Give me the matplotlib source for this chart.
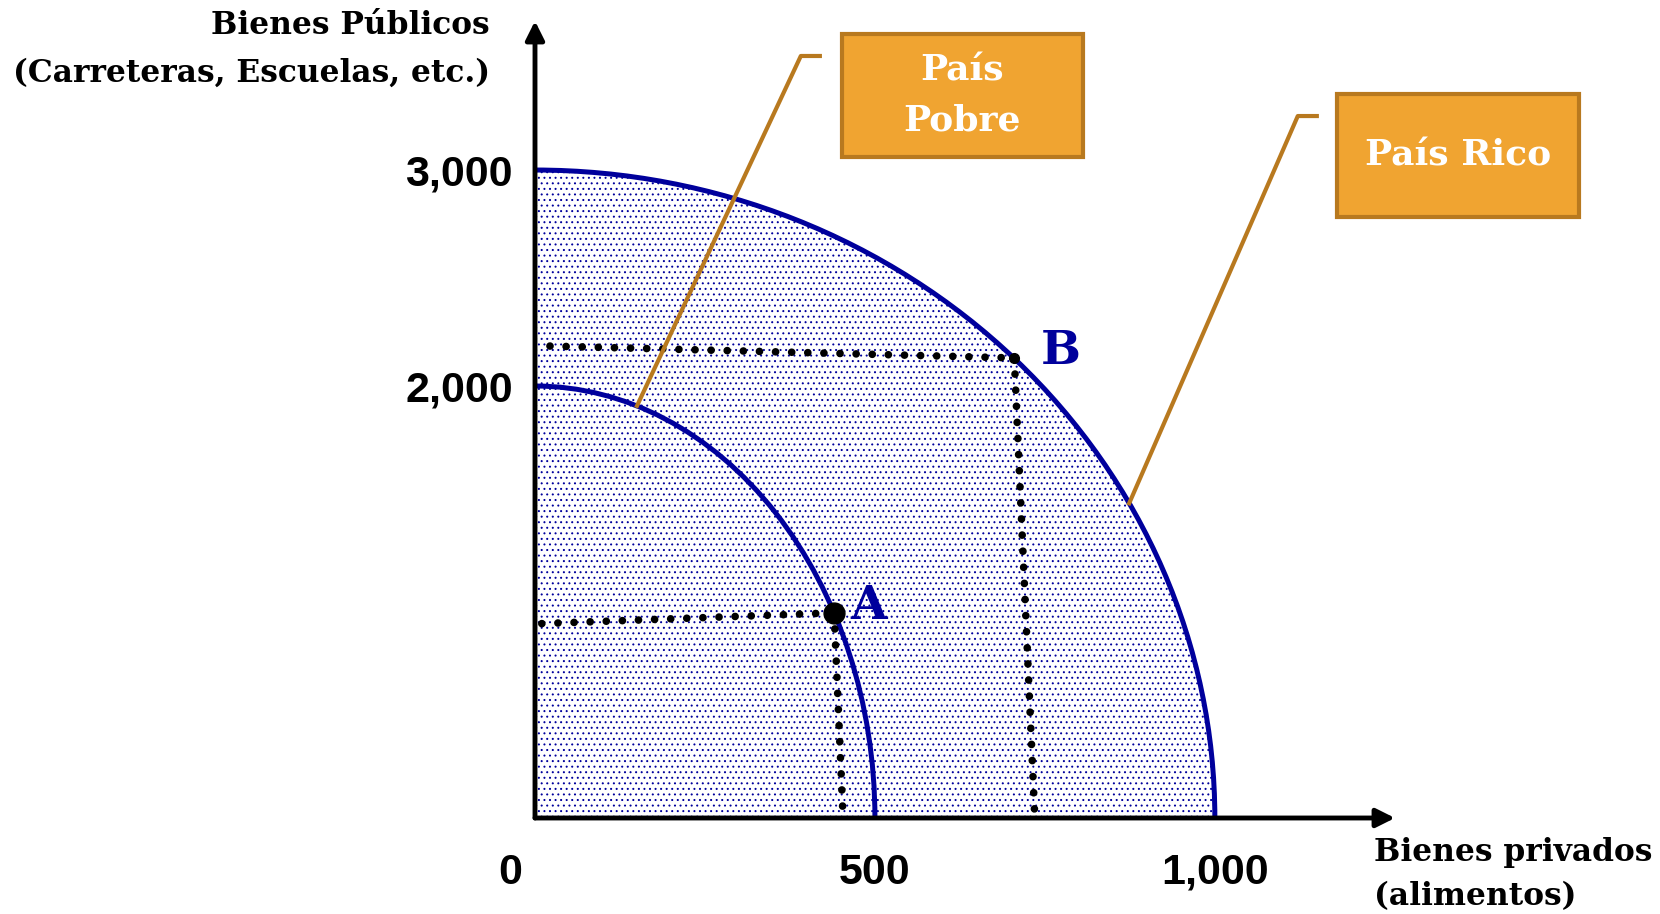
import numpy as np
import matplotlib.pyplot as plt
import matplotlib.transforms as mtransforms
from matplotlib.patches import Arc, Ellipse, Rectangle

# Frontera de posibilidades de producción: interceptos (bienes privados, bienes públicos)
pobre_x, pobre_y = 500, 2000
rico_x, rico_y = 1000, 3000

punto_a = (440, 950)
punto_b = (705, 2130)

# guías punteadas (extremos, algo inclinadas como en el original)
guia_a_h = ([10, 440], [900, 950])
guia_a_v = ([440, 453], [950, 15])
guia_b_h = ([22, 705], [2185, 2130])
guia_b_v = ([705, 735], [2130, 15])

xticks = [0, 500, 1000]
xtick_labels = ['0', '500', '1,000']
yticks = [2000, 3000]
ytick_labels = ['2,000', '3,000']

# líneas guía de las etiquetas (punto en la curva -> codo -> caja)
guia_pobre = ([150, 391, 419], [1908, 3528, 3528])
guia_rico = ([874, 1122, 1150], [1457, 3250, 3250])

azul = '#00009c'
naranja = '#F0A431'
borde = '#B8791F'
serif = 'DejaVu Serif'
sans = 'Liberation Sans'

plt.rcParams['hatch.color'] = azul
plt.rcParams['hatch.linewidth'] = 0.7

fig = plt.figure(figsize=(16.6, 9.14), dpi=100)
W, H = 1660, 914
# ejes: origen en (535, 818) px, arriba hasta 21 px, derecha hasta 1395 px
ax = fig.add_axes([535 / W, (H - 818) / H, (1395 - 535) / W, (818 - 21) / H])
ax.set_xlim(0, 1265)
ax.set_ylim(0, 3690)
for s in ax.spines.values():
    s.set_visible(False)

# área sombreada (punteado azul)
ax.add_patch(Ellipse((0, 0), 2 * rico_x, 2 * rico_y, facecolor='white',
                     edgecolor=azul, lw=0, hatch='...', zorder=1))

# curvas
ax.add_patch(Arc((0, 0), 2 * pobre_x, 2 * pobre_y, theta1=0, theta2=90,
                 color=azul, lw=3.6, zorder=3))
ax.add_patch(Arc((0, 0), 2 * rico_x, 2 * rico_y, theta1=0, theta2=90,
                 color=azul, lw=3.6, zorder=3))

# guías punteadas
for xs, ys in [guia_a_h, guia_a_v, guia_b_h, guia_b_v]:
    ax.plot(xs, ys, color='black', lw=5.5, linestyle=(0, (0.01, 2.1)),
            dash_capstyle='round', zorder=4)

ax.plot(*punto_a, 'o', color='black', ms=15, zorder=5)
ax.plot(*punto_b, 'o', color='black', ms=7, zorder=5)
ax.annotate('A', punto_a, xytext=(12, 5), textcoords='offset points',
            ha='left', va='center', fontsize=34, fontweight='bold',
            family=serif, color=azul)
ax.annotate('B', punto_b, xytext=(19, 5), textcoords='offset points',
            ha='left', va='center', fontsize=34, fontweight='bold',
            family=serif, color=azul)

# ejes con flecha
ax.annotate('', xy=(0, 1), xytext=(0, 0), xycoords='axes fraction',
            arrowprops=dict(arrowstyle='-|>', lw=3.5, color='black',
                            mutation_scale=28, shrinkA=0, shrinkB=0), zorder=6)
ax.annotate('', xy=(1, 0), xytext=(0, 0), xycoords='axes fraction',
            arrowprops=dict(arrowstyle='-|>', lw=3.5, color='black',
                            mutation_scale=28, shrinkA=0, shrinkB=0), zorder=6)

# ticks
ax.set_xticks(xticks, xtick_labels)
ax.set_yticks(yticks, ytick_labels)
ax.tick_params(length=0)
ax.tick_params(axis='x', pad=25)
ax.tick_params(axis='y', pad=16)
for lab in ax.get_xticklabels() + ax.get_yticklabels():
    lab.set_fontfamily(sans)
    lab.set_fontweight('bold')
    lab.set_fontsize(31)
cero = ax.get_xticklabels()[0]
cero.set_ha('right')
cero.set_transform(cero.get_transform() +
                   mtransforms.ScaledTranslation(-9 / 72, 0, fig.dpi_scale_trans))

# títulos de ejes
tam = 22.5
fig.text(490 / W, 1 - 26 / H, 'Bienes Públicos', ha='right', va='center',
         fontsize=tam, fontweight='bold', family=serif)
fig.text(490 / W, 1 - 73 / H, '(Carreteras, Escuelas, etc.)', ha='right',
         va='center', fontsize=tam, fontweight='bold', family=serif)
fig.text(1374 / W, 1 - 852 / H, 'Bienes privados', ha='left', va='center',
         fontsize=tam, fontweight='bold', family=serif)
fig.text(1374 / W, 1 - 897 / H, '(alimentos)', ha='left', va='center',
         fontsize=tam, fontweight='bold', family=serif)

# etiquetas en cajas
ax.plot(*guia_pobre, color=borde, lw=3, clip_on=False, zorder=4)
ax.plot(*guia_rico, color=borde, lw=3, clip_on=False, zorder=4)
ax.add_patch(Rectangle((451, 3060), 355, 570, facecolor=naranja,
                       edgecolor=borde, lw=3, clip_on=False, zorder=6))
ax.add_patch(Rectangle((1179, 2782), 357, 569, facecolor=naranja,
                       edgecolor=borde, lw=3, clip_on=False, zorder=6))
ax.text(628, 3345, 'País\nPobre', ha='center', va='center', fontsize=26,
        fontweight='bold', family=serif, color='white', linespacing=1.6,
        zorder=7, clip_on=False)
ax.text(1358, 3067, 'País Rico', ha='center', va='center', fontsize=26,
        fontweight='bold', family=serif, color='white', zorder=7,
        clip_on=False)

fig.savefig('out.png', dpi=100)
